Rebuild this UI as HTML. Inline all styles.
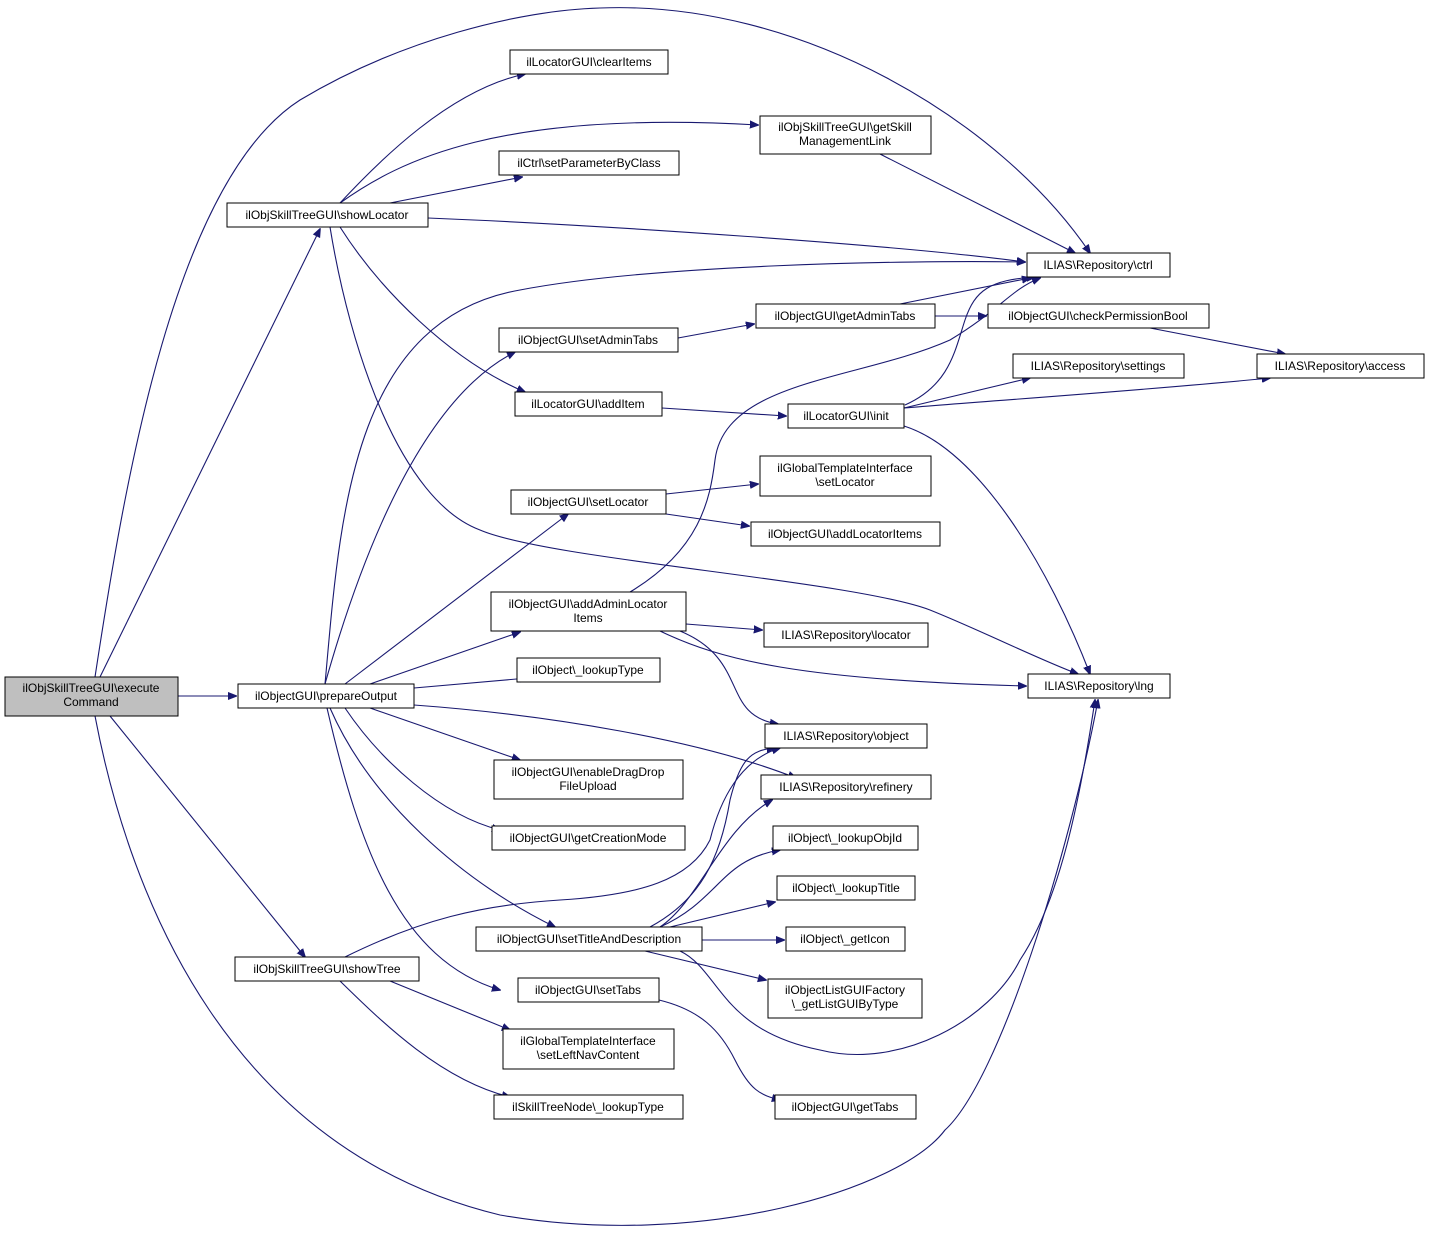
<!DOCTYPE html>
<html><head><meta charset="utf-8"><style>
html,body{margin:0;padding:0;background:#fff;}
svg{display:block;}
text{font-family:"Liberation Sans",sans-serif;font-size:12px;fill:#000;}
.n{fill:#fff;stroke:#000;stroke-width:1;}
.e{fill:none;stroke:#191970;stroke-width:1.1;}
</style></head><body>
<svg width="1431" height="1240" viewBox="0 0 1431 1240" xmlns="http://www.w3.org/2000/svg">
<defs><marker id="a" viewBox="0 0 10 10" refX="9" refY="5" markerWidth="9" markerHeight="9" markerUnits="userSpaceOnUse" orient="auto"><path d="M0,1 L10,5 L0,9 z" fill="#191970" stroke="#191970"/></marker></defs>
<g class="edges">
<path class="e" marker-end="url(#a)" d="M95,677 C125,480 175,180 300,100 C400,40 520,10 600,8 C800,0 1000,120 1090,253"/>
<path class="e" marker-end="url(#a)" d="M100,677 L320,229"/>
<path class="e" marker-end="url(#a)" d="M178,696 L236,696"/>
<path class="e" marker-end="url(#a)" d="M110,716 L305,957"/>
<path class="e" marker-end="url(#a)" d="M95,716 C130,900 230,1150 500,1215 C700,1250 900,1190 945,1130 C1000,1080 1070,850 1098,700"/>
<path class="e" marker-end="url(#a)" d="M340,203 C380,160 450,90 525,74"/>
<path class="e" marker-end="url(#a)" d="M340,203 C400,160 500,110 758,125"/>
<path class="e" marker-end="url(#a)" d="M390,203 L522,177"/>
<path class="e" marker-end="url(#a)" d="M428,218 C600,225 900,245 1025,262"/>
<path class="e" marker-end="url(#a)" d="M340,227 C380,290 450,360 525,392"/>
<path class="e" marker-end="url(#a)" d="M330,227 C350,350 400,500 480,530 C550,560 850,580 930,610 C980,630 1040,660 1078,674"/>
<path class="e" marker-end="url(#a)" d="M880,154 L1075,253"/>
<path class="e" marker-end="url(#a)" d="M325,684 C340,520 350,320 520,290 C650,265 900,260 1025,262"/>
<path class="e" marker-end="url(#a)" d="M325,684 C360,560 420,400 515,352"/>
<path class="e" marker-end="url(#a)" d="M345,684 L568,514"/>
<path class="e" marker-end="url(#a)" d="M370,684 L520,632"/>
<path class="e" marker-end="url(#a)" d="M414,688 L528,678"/>
<path class="e" marker-end="url(#a)" d="M414,705 C550,715 700,740 796,778"/>
<path class="e" marker-end="url(#a)" d="M370,708 L520,760"/>
<path class="e" marker-end="url(#a)" d="M345,708 C380,760 440,815 500,830"/>
<path class="e" marker-end="url(#a)" d="M330,708 C370,800 460,880 555,927"/>
<path class="e" marker-end="url(#a)" d="M327,708 C360,850 400,960 500,990"/>
<path class="e" marker-end="url(#a)" d="M678,338 L754,324"/>
<path class="e" marker-end="url(#a)" d="M900,304 L1030,278"/>
<path class="e" marker-end="url(#a)" d="M935,316 L986,316"/>
<path class="e" marker-end="url(#a)" d="M1150,328 L1285,354"/>
<path class="e" marker-end="url(#a)" d="M662,408 L786,416"/>
<path class="e" marker-end="url(#a)" d="M905,405 C950,385 955,350 965,320 C975,290 990,280 1035,277"/>
<path class="e" marker-end="url(#a)" d="M904,408 L1030,378"/>
<path class="e" marker-end="url(#a)" d="M904,408 C1000,400 1150,390 1270,378"/>
<path class="e" marker-end="url(#a)" d="M904,426 C980,450 1050,570 1090,674"/>
<path class="e" marker-end="url(#a)" d="M666,494 L758,484"/>
<path class="e" marker-end="url(#a)" d="M666,514 L749,526"/>
<path class="e" marker-end="url(#a)" d="M630,592 C700,550 710,500 715,460 C725,380 860,380 950,340 C1000,310 1010,290 1040,278"/>
<path class="e" marker-end="url(#a)" d="M686,624 L762,630"/>
<path class="e" marker-end="url(#a)" d="M660,631 C720,660 800,680 1026,686"/>
<path class="e" marker-end="url(#a)" d="M680,631 C750,660 720,715 778,724"/>
<path class="e" marker-end="url(#a)" d="M650,927 C700,900 720,860 730,800 C740,760 750,750 775,748"/>
<path class="e" marker-end="url(#a)" d="M660,927 C700,900 720,830 772,800"/>
<path class="e" marker-end="url(#a)" d="M660,927 C720,900 720,860 780,850"/>
<path class="e" marker-end="url(#a)" d="M670,927 L775,902"/>
<path class="e" marker-end="url(#a)" d="M702,940 L784,940"/>
<path class="e" marker-end="url(#a)" d="M645,951 L766,980"/>
<path class="e" marker-end="url(#a)" d="M680,951 C720,970 720,1030 820,1050 C900,1070 990,1020 1020,960 C1060,900 1080,800 1095,700"/>
<path class="e" marker-end="url(#a)" d="M345,957 C420,920 480,905 560,900 C640,895 690,880 710,840 C720,800 740,760 780,748"/>
<path class="e" marker-end="url(#a)" d="M390,981 L510,1030"/>
<path class="e" marker-end="url(#a)" d="M340,981 C380,1020 440,1080 510,1097"/>
<path class="e" marker-end="url(#a)" d="M659,1000 C700,1010 720,1030 735,1060 C750,1090 760,1095 780,1100"/>
</g>
<g>
<rect x="5" y="677" width="173" height="39" fill="#bfbfbf" stroke="#000"/><text x="91" y="692" text-anchor="middle">ilObjSkillTreeGUI\execute</text><text x="91" y="706" text-anchor="middle">Command</text>
<rect class="n" x="227" y="203" width="201" height="24"/><text x="327" y="219" text-anchor="middle">ilObjSkillTreeGUI\showLocator</text>
<rect class="n" x="238" y="684" width="176" height="24"/><text x="326" y="700" text-anchor="middle">ilObjectGUI\prepareOutput</text>
<rect class="n" x="235" y="957" width="184" height="24"/><text x="327" y="973" text-anchor="middle">ilObjSkillTreeGUI\showTree</text>
<rect class="n" x="510" y="50" width="158" height="24"/><text x="589" y="66" text-anchor="middle">ilLocatorGUI\clearItems</text>
<rect class="n" x="760" y="116" width="171" height="38"/><text x="845" y="131" text-anchor="middle">ilObjSkillTreeGUI\getSkill</text><text x="845" y="145" text-anchor="middle">ManagementLink</text>
<rect class="n" x="499" y="151" width="180" height="24"/><text x="589" y="167" text-anchor="middle">ilCtrl\setParameterByClass</text>
<rect class="n" x="1027" y="253" width="143" height="24"/><text x="1098" y="269" text-anchor="middle">ILIAS\Repository\ctrl</text>
<rect class="n" x="499" y="328" width="179" height="24"/><text x="588" y="344" text-anchor="middle">ilObjectGUI\setAdminTabs</text>
<rect class="n" x="756" y="304" width="179" height="24"/><text x="845" y="320" text-anchor="middle">ilObjectGUI\getAdminTabs</text>
<rect class="n" x="988" y="304" width="221" height="24"/><text x="1098" y="320" text-anchor="middle">ilObjectGUI\checkPermissionBool</text>
<rect class="n" x="1257" y="354" width="167" height="24"/><text x="1340" y="370" text-anchor="middle">ILIAS\Repository\access</text>
<rect class="n" x="1013" y="354" width="171" height="24"/><text x="1098" y="370" text-anchor="middle">ILIAS\Repository\settings</text>
<rect class="n" x="515" y="392" width="147" height="24"/><text x="588" y="408" text-anchor="middle">ilLocatorGUI\addItem</text>
<rect class="n" x="788" y="404" width="116" height="24"/><text x="846" y="420" text-anchor="middle">ilLocatorGUI\init</text>
<rect class="n" x="760" y="456" width="171" height="40"/><text x="845" y="472" text-anchor="middle">ilGlobalTemplateInterface</text><text x="845" y="486" text-anchor="middle">\setLocator</text>
<rect class="n" x="511" y="490" width="155" height="24"/><text x="588" y="506" text-anchor="middle">ilObjectGUI\setLocator</text>
<rect class="n" x="751" y="522" width="189" height="24"/><text x="845" y="538" text-anchor="middle">ilObjectGUI\addLocatorItems</text>
<rect class="n" x="491" y="592" width="195" height="39"/><text x="588" y="608" text-anchor="middle">ilObjectGUI\addAdminLocator</text><text x="588" y="622" text-anchor="middle">Items</text>
<rect class="n" x="764" y="623" width="164" height="24"/><text x="846" y="639" text-anchor="middle">ILIAS\Repository\locator</text>
<rect class="n" x="1028" y="674" width="142" height="24"/><text x="1099" y="690" text-anchor="middle">ILIAS\Repository\lng</text>
<rect class="n" x="517" y="658" width="143" height="24"/><text x="588" y="674" text-anchor="middle">ilObject\_lookupType</text>
<rect class="n" x="765" y="724" width="162" height="24"/><text x="846" y="740" text-anchor="middle">ILIAS\Repository\object</text>
<rect class="n" x="761" y="775" width="170" height="24"/><text x="846" y="791" text-anchor="middle">ILIAS\Repository\refinery</text>
<rect class="n" x="494" y="760" width="189" height="39"/><text x="588" y="776" text-anchor="middle">ilObjectGUI\enableDragDrop</text><text x="588" y="790" text-anchor="middle">FileUpload</text>
<rect class="n" x="492" y="826" width="193" height="24"/><text x="588" y="842" text-anchor="middle">ilObjectGUI\getCreationMode</text>
<rect class="n" x="773" y="826" width="145" height="24"/><text x="845" y="842" text-anchor="middle">ilObject\_lookupObjId</text>
<rect class="n" x="777" y="876" width="138" height="24"/><text x="846" y="892" text-anchor="middle">ilObject\_lookupTitle</text>
<rect class="n" x="476" y="927" width="226" height="24"/><text x="589" y="943" text-anchor="middle">ilObjectGUI\setTitleAndDescription</text>
<rect class="n" x="786" y="927" width="119" height="24"/><text x="845" y="943" text-anchor="middle">ilObject\_getIcon</text>
<rect class="n" x="768" y="979" width="154" height="39"/><text x="845" y="994" text-anchor="middle">ilObjectListGUIFactory</text><text x="845" y="1008" text-anchor="middle">\_getListGUIByType</text>
<rect class="n" x="518" y="978" width="141" height="24"/><text x="588" y="994" text-anchor="middle">ilObjectGUI\setTabs</text>
<rect class="n" x="503" y="1029" width="171" height="40"/><text x="588" y="1045" text-anchor="middle">ilGlobalTemplateInterface</text><text x="588" y="1059" text-anchor="middle">\setLeftNavContent</text>
<rect class="n" x="494" y="1095" width="189" height="24"/><text x="588" y="1111" text-anchor="middle">ilSkillTreeNode\_lookupType</text>
<rect class="n" x="775" y="1095" width="141" height="24"/><text x="845" y="1111" text-anchor="middle">ilObjectGUI\getTabs</text>
</g>
</svg>
</body></html>
